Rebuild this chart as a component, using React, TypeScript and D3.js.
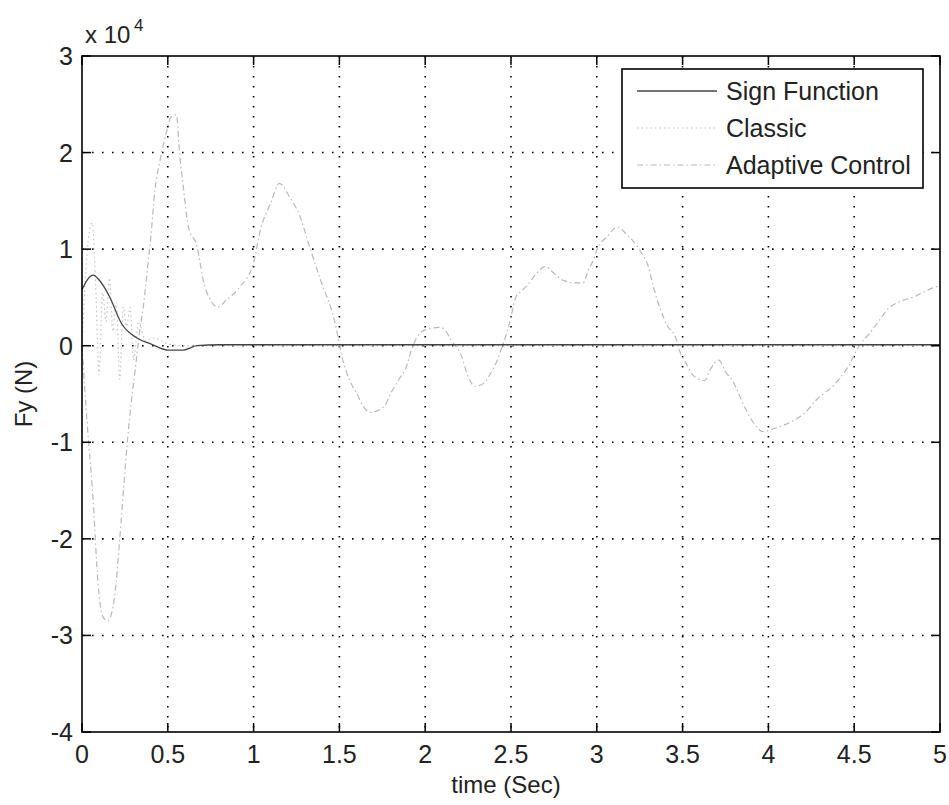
import React from "react";
import * as d3 from "d3";

// Values in units of 1e4 N
const xTicks = [0, 0.5, 1, 1.5, 2, 2.5, 3, 3.5, 4, 4.5, 5];
const yTicks = [-4, -3, -2, -1, 0, 1, 2, 3];
const xTickLabels = ["0", "0.5", "1", "1.5", "2", "2.5", "3", "3.5", "4", "4.5", "5"];
const yTickLabels = ["-4", "-3", "-2", "-1", "0", "1", "2", "3"];
const seriesNames = ["Sign Function", "Classic", "Adaptive Control"];

const signT = [0, 0.03, 0.066, 0.1, 0.16, 0.23, 0.32, 0.4, 0.5, 0.59, 0.67, 0.8, 1.0, 2.0, 3.0, 4.0, 5.0];
const signV = [0.58, 0.68, 0.73, 0.68, 0.51, 0.23, 0.08, 0.02, -0.045, -0.045, 0, 0.01, 0.01, 0.01, 0.01, 0.01, 0.01];

const classicT = [0, 0.02, 0.04, 0.06, 0.08, 0.1, 0.12, 0.14, 0.16, 0.18, 0.2, 0.22, 0.24, 0.26, 0.28, 0.3, 0.33, 0.37, 0.42, 0.5, 0.6, 1.0, 2.0, 3.0, 4.0, 5.0];
const classicV = [0, 0.7, 1.15, 1.27, 0.6, -0.3, 0.55, 0.25, 0.7, 0.15, 0.45, -0.35, 0.4, 0.2, 0.4, -0.15, 0.25, 0.05, 0.08, 0.02, 0, 0, 0, 0, 0, 0];

const adaptiveT = [0, 0.03, 0.065, 0.093, 0.12, 0.15, 0.19, 0.22, 0.25, 0.28, 0.31, 0.34, 0.36, 0.38, 0.4, 0.425, 0.455, 0.49, 0.52, 0.55, 0.57, 0.59, 0.62, 0.67, 0.71, 0.75, 0.79, 0.84, 0.92, 1.0, 1.04, 1.1, 1.15, 1.21, 1.27, 1.32, 1.39, 1.47, 1.52, 1.56, 1.6, 1.64, 1.68, 1.76, 1.8, 1.85, 1.89, 1.92, 1.97, 2.03, 2.09, 2.12, 2.15, 2.21, 2.25, 2.29, 2.34, 2.38, 2.42, 2.45, 2.48, 2.5, 2.53, 2.57, 2.61, 2.64, 2.7, 2.75, 2.8, 2.88, 2.92, 2.95, 2.98, 3.0, 3.06, 3.12, 3.17, 3.25, 3.3, 3.33, 3.41, 3.46, 3.48, 3.52, 3.57, 3.63, 3.66, 3.71, 3.75, 3.79, 3.86, 3.91, 3.97, 4.03, 4.13, 4.21, 4.28, 4.38, 4.46, 4.53, 4.59, 4.65, 4.69, 4.77, 4.84, 4.96, 5.0];
const adaptiveV = [0, -0.8, -1.6, -2.45, -2.8, -2.85, -2.6, -2.0, -1.3, -0.7, -0.25, 0.2, 0.44, 0.78, 1.1, 1.61, 1.92, 2.2, 2.37, 2.39, 1.96, 1.65, 1.23, 1.03, 0.65, 0.47, 0.4, 0.47, 0.61, 0.86, 1.2, 1.48, 1.68, 1.54, 1.34, 1.06, 0.68, 0.27, -0.15, -0.36, -0.49, -0.63, -0.69, -0.63, -0.49, -0.34, -0.22, -0.04, 0.13, 0.18, 0.19, 0.15, 0.06, -0.1, -0.32, -0.42, -0.39, -0.29, -0.15, 0, 0.16, 0.3, 0.51, 0.58, 0.66, 0.73, 0.82, 0.75, 0.68, 0.65, 0.65, 0.78, 0.89, 0.99, 1.13, 1.23, 1.16, 0.99, 0.82, 0.61, 0.21, 0.08, -0.04, -0.18, -0.32, -0.36, -0.25, -0.15, -0.27, -0.36, -0.63, -0.79, -0.89, -0.86, -0.79, -0.7, -0.56, -0.41, -0.23, 0, 0.13, 0.27, 0.37, 0.46, 0.5, 0.6, 0.62];

const FONT = "'Liberation Sans', Arial, Helvetica, sans-serif";

export default function App() {
  const W = 949, H = 805;
  const L = 82, R = 940, T = 56, B = 732;
  const x = d3.scaleLinear().domain([0, 5]).range([L, R]);
  const y = d3.scaleLinear().domain([-4, 3]).range([B, T]);
  const line = d3.line<[number, number]>().x(d => x(d[0])).y(d => y(d[1])).curve(d3.curveMonotoneX);
  const zip = (t: number[], v: number[]) => t.map((ti, i) => [ti, v[i]] as [number, number]);

  const styles = [
    { stroke: "#444", dash: undefined as string | undefined, w: 1.3 },
    { stroke: "#c4c4c4", dash: "1.5 3", w: 1.2 },
    { stroke: "#b8b8b8", dash: "6 3 1.5 3", w: 1.2 },
  ];
  const data = [zip(signT, signV), zip(classicT, classicV), zip(adaptiveT, adaptiveV)];
  const tick = 9;

  return (
    <svg width={W} height={H} style={{ position: "absolute", left: 0, top: 0, background: "#fff" }} fontFamily={FONT}>
      <rect x={0} y={0} width={W} height={H} fill="#fff" />
      {xTicks.slice(1, -1).map(t => (
        <line key={"gx" + t} x1={x(t)} x2={x(t)} y1={T} y2={B} stroke="#000" strokeWidth={1.6} strokeDasharray="1.6 8.4" />
      ))}
      {yTicks.slice(1, -1).map(t => (
        <line key={"gy" + t} x1={L} x2={R} y1={y(t)} y2={y(t)} stroke="#000" strokeWidth={1.6} strokeDasharray="1.6 8.4" />
      ))}
      {[2, 1, 0].map(i => (
        <path key={"s" + i} d={line(data[i]) || ""} fill="none" stroke={styles[i].stroke} strokeWidth={styles[i].w} strokeDasharray={styles[i].dash} />
      ))}
      {xTicks.map(t => (
        <g key={"tx" + t}>
          <line x1={x(t)} x2={x(t)} y1={B} y2={B - tick} stroke="#000" strokeWidth={1.5} />
          <line x1={x(t)} x2={x(t)} y1={T} y2={T + tick} stroke="#000" strokeWidth={1.5} />
        </g>
      ))}
      {yTicks.map(t => (
        <g key={"ty" + t}>
          <line x1={L} x2={L + tick} y1={y(t)} y2={y(t)} stroke="#000" strokeWidth={1.5} />
          <line x1={R} x2={R - tick} y1={y(t)} y2={y(t)} stroke="#000" strokeWidth={1.5} />
        </g>
      ))}
      <rect x={L} y={T} width={R - L} height={B - T} fill="none" stroke="#000" strokeWidth={1.6} />
      {xTicks.map((t, i) => (
        <text key={"lx" + t} x={x(t)} y={763} fontSize={25} textAnchor="middle" fill="#222">{xTickLabels[i]}</text>
      ))}
      {yTicks.map((t, i) => (
        <text key={"ly" + t} x={73} y={y(t) + 9} fontSize={25} textAnchor="end" fill="#222">{yTickLabels[i]}</text>
      ))}
      <text x={85} y={43} fontSize={24} fill="#222">x 10</text>
      <text x={134} y={31} fontSize={17} fill="#222">4</text>
      <text x={506} y={793} fontSize={24} textAnchor="middle" fill="#222">time (Sec)</text>
      <text transform={`translate(32, ${(T + B) / 2}) rotate(-90)`} fontSize={24} textAnchor="middle" fill="#222">Fy (N)</text>
      <rect x={622} y={69} width={301} height={119} fill="#fff" stroke="#000" strokeWidth={1.6} />
      {seriesNames.map((n, i) => (
        <g key={"lg" + i}>
          <line x1={637} x2={717} y1={91 + i * 37} y2={91 + i * 37} stroke={styles[i].stroke} strokeWidth={styles[i].w} strokeDasharray={styles[i].dash} />
          <text x={726} y={100 + i * 37} fontSize={25} fill="#222">{n}</text>
        </g>
      ))}
    </svg>
  );
}
